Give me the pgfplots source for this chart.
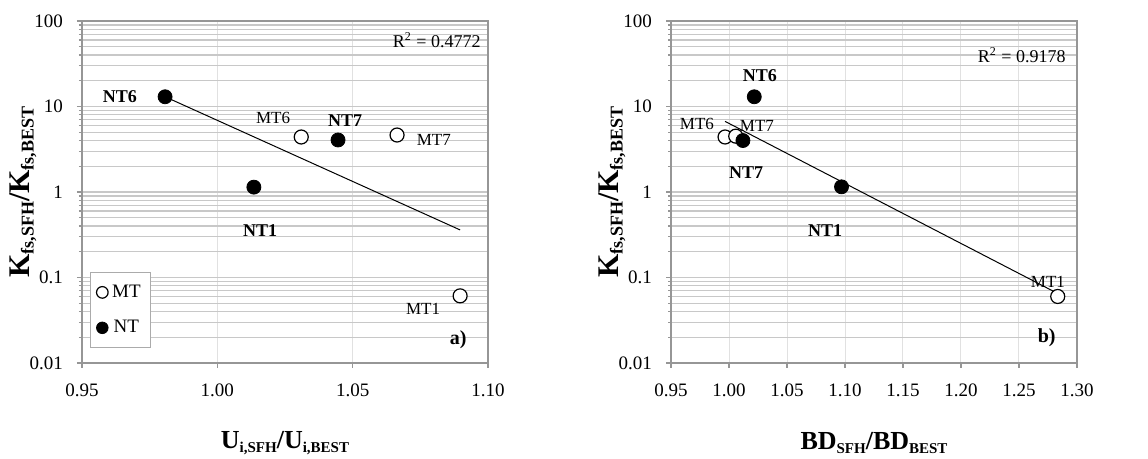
\documentclass[border=0pt]{standalone}
\usepackage{pgfplots}
\pgfplotsset{compat=1.18}
\usepackage{fontspec}
\setmainfont{Liberation Serif}

\definecolor{ygrid}{RGB}{200,200,200}
\definecolor{xgrid}{RGB}{225,225,225}
\definecolor{framegray}{RGB}{150,150,150}

\newcommand{\ntlab}{\fontsize{9}{10}\selectfont\bfseries}
\newcommand{\mtlab}{\fontsize{8.5}{10}\selectfont}
% small lowered subscripts for the axis titles
\newcommand{\xs}[1]{\raisebox{-1.6pt}{\fontsize{7.5}{8}\selectfont #1}}
\newcommand{\ys}[1]{\raisebox{-2pt}{\fontsize{9}{10}\selectfont #1}}

\begin{document}
\begin{tikzpicture}
\path[use as bounding box] (0,0) rectangle (574pt,229.5pt);

% a) infiltration ratio
\begin{axis}[
  scale only axis, width=203pt, height=171pt,
  at={(41pt,48pt)}, anchor=south west, clip=false,
  ymode=log, ymin=0.01, ymax=100,
  ytick={0.01,0.1,1,10,100}, yticklabels={0.01,0.1,1,10,100},
  xmin=0.95, xmax=1.10, xtick={0.95,1.00,1.05,1.10},
  xticklabels={0.95,1.00,1.05,1.10},
  xmajorgrids, ymajorgrids, yminorgrids,
  major grid style={ygrid, line width=0.6pt},
  minor grid style={ygrid, line width=0.6pt},
  major x grid style={xgrid, line width=0.5pt},
  axis line style={framegray, line width=0.6pt},
  tick align=outside, xtick pos=left, ytick pos=left,
  major tick length=2.5pt, minor tick length=1.5pt,
  tick style={framegray, line width=0.6pt},
  tick label style={font=\fontsize{9.5}{10}\selectfont},
  xticklabel style={yshift=-4.5pt},
  yticklabel style={xshift=-3.5pt},
  label style={font=\fontsize{13}{15}\selectfont\bfseries},
  ylabel style={font=\fontsize{15}{17}\selectfont\bfseries,
    at={(axis description cs:-0.145,0.5)}, anchor=center},
  xlabel style={at={(axis description cs:0.5,-0.234)}, anchor=center},
  ylabel={K\ys{fs,SFH}/K\ys{fs,BEST}},
  xlabel={U\xs{i,SFH}/U\xs{i,BEST}},
  legend style={at={(axis description cs:0.02,0.044)}, anchor=south west,
    draw=framegray!80, line width=0.4pt, font=\fontsize{9.5}{10}\selectfont,
    row sep=6pt, inner xsep=3pt, inner ysep=4pt},
  legend image post style={mark size=2.9pt}]
\addplot[only marks, mark=*, mark size=3.5pt, mark options={fill=white, draw=black, line width=0.6pt}]
  coordinates {(1.031,4.4)(1.0664,4.64)(1.0897,0.061)};
\addlegendentry{MT}
\addplot[only marks, mark=*, mark size=3.5pt, mark options={fill=black, draw=black}]
  coordinates {(0.9807,13.0)(1.0446,4.06)(1.0135,1.14)};
\addlegendentry{NT}
\addplot[black, line width=0.5pt, forget plot] coordinates {(0.9807,13.0)(1.0897,0.36)};
\draw[framegray, line width=1.1pt] (rel axis cs:0,1) -- (rel axis cs:0,0) -- (rel axis cs:1,0);
\node[font=\ntlab] at (axis cs:0.964,13) {NT6};
\node[font=\mtlab] at (axis cs:1.0206,7.3) {MT6};
\node[font=\ntlab] at (axis cs:1.0472,6.8) {NT7};
\node[font=\mtlab] at (axis cs:1.080,4.06) {MT7};
\node[font=\ntlab] at (axis cs:1.0158,0.35) {NT1};
\node[font=\mtlab] at (axis cs:1.076,0.043) {MT1};
\node[anchor=east, font=\fontsize{9}{10}\selectfont, inner sep=0pt] at (axis cs:1.0974,60) {R\textsuperscript{2} = 0.4772};
\node[anchor=east, font=\fontsize{10}{11}\selectfont\bfseries, inner sep=0pt] at (axis cs:1.0922,0.0186) {a)};
\end{axis}

% b) bulk density ratio
\begin{axis}[
  scale only axis, width=203pt, height=171pt,
  at={(335.5pt,48pt)}, anchor=south west, clip=false,
  ymode=log, ymin=0.01, ymax=100,
  ytick={0.01,0.1,1,10,100}, yticklabels={0.01,0.1,1,10,100},
  xmin=0.95, xmax=1.30, xtick={0.95,1.00,1.05,1.10,1.15,1.20,1.25,1.30},
  xticklabels={0.95,1.00,1.05,1.10,1.15,1.20,1.25,1.30},
  xmajorgrids, ymajorgrids, yminorgrids,
  major grid style={ygrid, line width=0.6pt},
  minor grid style={ygrid, line width=0.6pt},
  major x grid style={xgrid, line width=0.5pt},
  axis line style={framegray, line width=0.6pt},
  tick align=outside, xtick pos=left, ytick pos=left,
  major tick length=2.5pt, minor tick length=1.5pt,
  tick style={framegray, line width=0.6pt},
  tick label style={font=\fontsize{9.5}{10}\selectfont},
  xticklabel style={yshift=-4.5pt},
  yticklabel style={xshift=-3.5pt},
  label style={font=\fontsize{13}{15}\selectfont\bfseries},
  ylabel style={font=\fontsize{15}{17}\selectfont\bfseries,
    at={(axis description cs:-0.145,0.5)}, anchor=center},
  xlabel style={at={(axis description cs:0.5,-0.234)}, anchor=center},
  ylabel={K\ys{fs,SFH}/K\ys{fs,BEST}},
  xlabel={BD\xs{SFH}/BD\xs{BEST}}]
\addplot[only marks, mark=*, mark size=3.5pt, mark options={fill=white, draw=black, line width=0.6pt}]
  coordinates {(0.9966,4.4)(1.0058,4.5)(1.2834,0.060)};
\addplot[only marks, mark=*, mark size=3.5pt, mark options={fill=black, draw=black}]
  coordinates {(1.0218,13.0)(1.012,4.0)(1.097,1.15)};
\addplot[black, line width=0.5pt] coordinates {(0.9966,6.7)(1.2834,0.065)};
\draw[framegray, line width=1.1pt] (rel axis cs:0,1) -- (rel axis cs:0,0) -- (rel axis cs:1,0);
\node[font=\ntlab] at (axis cs:1.0267,23.2) {NT6};
\node[font=\mtlab] at (axis cs:0.9724,6.3) {MT6};
\node[font=\mtlab] at (axis cs:1.0241,5.97) {MT7};
\node[font=\ntlab] at (axis cs:1.0147,1.67) {NT7};
\node[font=\ntlab] at (axis cs:1.0828,0.35) {NT1};
\node[font=\mtlab] at (axis cs:1.275,0.0897) {MT1};
\node[anchor=east, font=\fontsize{9}{10}\selectfont, inner sep=0pt] at (axis cs:1.2905,40) {R\textsuperscript{2} = 0.9178};
\node[anchor=east, font=\fontsize{10}{11}\selectfont\bfseries, inner sep=0pt] at (axis cs:1.2819,0.0197) {b)};
\end{axis}
\end{tikzpicture}
\end{document}
